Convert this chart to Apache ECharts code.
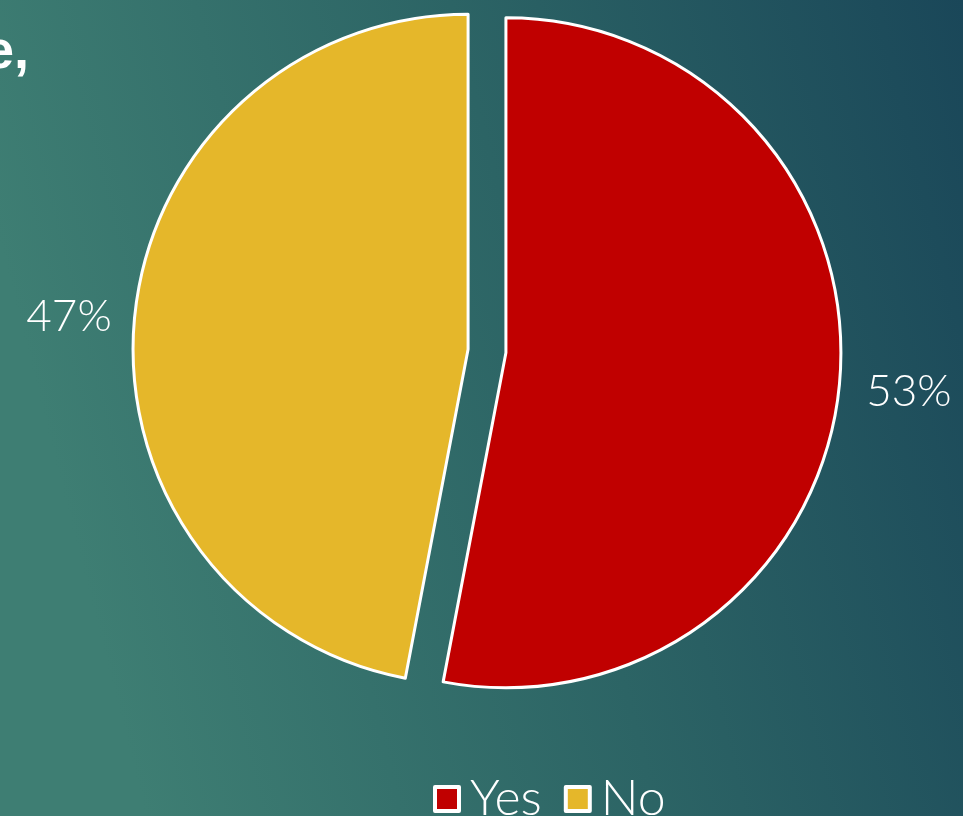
<!DOCTYPE html>
<html>
<head>
<meta charset="utf-8">
<script src="https://cdn.jsdelivr.net/npm/echarts@6/dist/echarts.min.js"></script>
<style>
html,body{margin:0;padding:0;}
#chart{width:963px;height:816px;}
</style>
</head>
<body>
<div id="chart"></div>
<script>
const categories = ['Yes', 'No'];
const values = [53, 47];
const colors = ['#c00000', '#e5b72a'];
const titleFragment = 'e,';

const chart = echarts.init(document.getElementById('chart'));
chart.setOption({
  backgroundColor: {
    type: 'linear', x: 0, y: 0.3, x2: 1, y2: 0,
    colorStops: [
      {offset: 0, color: '#3e7e73'},
      {offset: 0.5, color: '#2c6465'},
      {offset: 1, color: '#1a4759'}
    ]
  },
  title: {
    text: titleFragment,
    left: -21, top: 21,
    textStyle: {color: '#ffffff', fontSize: 54, fontWeight: 'bold', fontFamily: 'Liberation Sans'}
  },
  legend: {
    data: categories,
    left: 428, top: 769,
    itemWidth: 24, itemHeight: 24, itemGap: 22,
    icon: 'rect',
    itemStyle: {borderColor: '#ffffff', borderWidth: 4},
    textStyle: {color: '#ffffff', fontSize: 50, fontFamily: 'Lato', fontWeight: 300, padding: [0, 0, 0, 6]}
  },
  series: [{
    type: 'pie',
    center: [487, 351],
    radius: 335,
    startAngle: 90,
    clockwise: true,
    selectedMode: 'multiple',
    selectedOffset: 19,
    animation: false,
    itemStyle: {borderColor: '#ffffff', borderWidth: 3},
    label: {
      show: true, position: 'outside',
      formatter: '{d}%',
      color: '#ffffff', fontSize: 44, fontFamily: 'Lato', fontWeight: 300
    },
    labelLine: {show: false, length: 24, length2: 0},
    labelLayout: function (p) {
      return p.dataIndex === 0 ? {dx: -2, dy: 5} : {dx: 6, dy: 1};
    },
    emphasis: {disabled: true},
    data: categories.map((c, i) => ({
      name: c, value: values[i], selected: true,
      itemStyle: {color: colors[i]}
    }))
  }]
});
</script>
</body>
</html>
